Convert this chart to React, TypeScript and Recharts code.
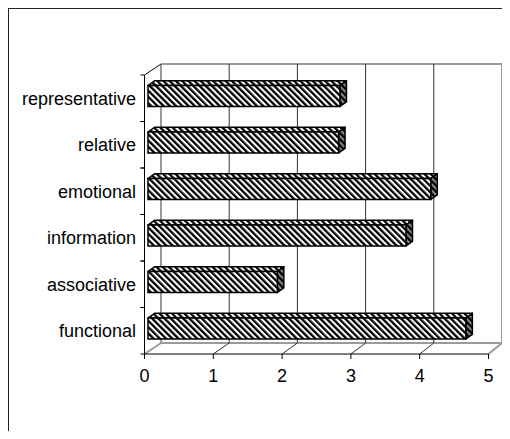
import React from "react";
import { BarChart, Bar, XAxis, YAxis, CartesianGrid } from "recharts";

// ---- data ----
const categories = ["representative", "relative", "emotional", "information", "associative", "functional"];
const values = [2.79, 2.77, 4.11, 3.75, 1.88, 4.62];
const xTicks = [0, 1, 2, 3, 4, 5];

const data = categories.map((name, i) => ({ name, value: values[i] }));

// ---- layout (chart-local coordinates) ----
const CHART_W = 501;
const CHART_H = 430;
const PLOT_LEFT = 135.5;
const PLOT_RIGHT = 479.5;
const PLOT_TOP = 66;
const PLOT_BOTTOM = 345;
const YAXIS_W = 100;
const XAXIS_H = 40;
const MARGIN = {
  top: PLOT_TOP,
  right: CHART_W - PLOT_RIGHT,
  bottom: CHART_H - PLOT_BOTTOM - XAXIS_H,
  left: PLOT_LEFT - YAXIS_W,
};
const BAND = (PLOT_BOTTOM - PLOT_TOP) / categories.length;

// 3D depth
const DX = 16.5;
const DY = -11;
const K = 0.9913; // back plane scale
const BAR_SHIFT_X = 3.5;
const BAR_SHIFT_Y = -2.5;
const BAR_DX = 6.5;
const BAR_DY = -4.7;

const FONT = "'Liberation Sans', Arial, sans-serif";
const FONT_SIZE = 18;
const WALL = "#9a9a9a";
const GRID = "#333";

const backX = (fx: number) => PLOT_LEFT + DX + (fx - PLOT_LEFT) * K;
const near = (a: number, b: number) => Math.abs(a - b) < 0.75;

const VGrid = (props: any) => {
  const { x1, y1, y2, index } = props;
  const bx = backX(x1);
  const isEdge = near(x1, PLOT_LEFT) || near(x1, PLOT_RIGHT);
  const col = isEdge ? WALL : GRID;
  const sw = isEdge ? 2 : 1;
  return (
    <g key={`vg-${index}`}>
      <line x1={bx} y1={y1 + DY} x2={bx} y2={y2 + DY} stroke={col} strokeWidth={sw} />
      <line x1={x1} y1={y2} x2={bx} y2={y2 + DY} stroke={col} strokeWidth={sw} />
      {near(x1, PLOT_LEFT) ? <line x1={x1} y1={y1} x2={bx} y2={y1 + DY} stroke="#000" strokeWidth={1} /> : null}
    </g>
  );
};

const HGrid = (props: any) => {
  const { x1, x2, y1, index } = props;
  if (!(near(y1, PLOT_TOP) || near(y1, PLOT_BOTTOM))) return <g key={`hg-${index}`} />;
  return (
    <g key={`hg-${index}`}>
      <line x1={backX(x1)} y1={y1 + DY} x2={backX(x2)} y2={y1 + DY} stroke={WALL} strokeWidth={2} />
    </g>
  );
};

const XTick = (props: any) => {
  const { x, y, payload } = props;
  return (
    <g>
      <line x1={x} y1={y} x2={x} y2={y + 5} stroke="#000" strokeWidth={1} />
      <text x={x} y={y + 22} dy="0.35em" textAnchor="middle" fontFamily={FONT} fontSize={FONT_SIZE} fill="#000">
        {payload.value}
      </text>
    </g>
  );
};

const YTick = (props: any) => {
  const { x, y, payload } = props;
  return (
    <g>
      <line x1={x - 4} y1={y - BAND / 2} x2={x} y2={y - BAND / 2} stroke="#000" strokeWidth={1} />
      <line x1={x - 4} y1={y + BAND / 2} x2={x} y2={y + BAND / 2} stroke="#000" strokeWidth={1} />
      <text x={x - 8.5} y={y} dy="0.35em" textAnchor="end" fontFamily={FONT} fontSize={FONT_SIZE} fill="#000">
        {payload.value}
      </text>
    </g>
  );
};

const Bar3D = (props: any) => {
  const { x, y, width, height, index } = props;
  if (width == null || width <= 0) return null;
  const fx = x + BAR_SHIFT_X;
  const fy = y + BAR_SHIFT_Y;
  const w = width;
  const h = height;
  const pid = `hatch-${index}`;
  const sid = `side-${index}`;
  const top = `${fx},${fy} ${fx + w},${fy} ${fx + w + BAR_DX},${fy + BAR_DY} ${fx + BAR_DX},${fy + BAR_DY}`;
  const side = `${fx + w},${fy} ${fx + w + BAR_DX},${fy + BAR_DY} ${fx + w + BAR_DX},${fy + h + BAR_DY} ${fx + w},${fy + h}`;
  return (
    <g>
      <defs>
        <pattern id={pid} patternUnits="userSpaceOnUse" width={4.4} height={4.4} patternTransform="rotate(-45)">
          <rect width={4.4} height={4.4} fill="#fff" />
          <rect width={2.3} height={4.4} fill="#000" />
        </pattern>
        <pattern id={sid} patternUnits="userSpaceOnUse" width={4.4} height={4.4} patternTransform="rotate(-45)">
          <rect width={4.4} height={4.4} fill="#888" />
          <rect width={2.3} height={4.4} fill="#000" />
        </pattern>
      </defs>
      <polygon points={top} fill={`url(#${pid})`} stroke="#000" strokeWidth={1.5} strokeLinejoin="round" />
      <polygon points={side} fill={`url(#${sid})`} stroke="#000" strokeWidth={1.5} strokeLinejoin="round" />
      <rect x={fx} y={fy} width={w} height={h} fill={`url(#${pid})`} stroke="#000" strokeWidth={1.5} />
    </g>
  );
};

export default function App() {
  return (
    <div
      style={{
        position: "relative",
        width: 502,
        height: 423,
        borderTop: "1px solid #222",
        boxSizing: "border-box",
      }}
    >
      <div style={{ position: "absolute", left: 0, top: -1, width: 1, height: 431, background: "#222" }} />
      <div style={{ position: "absolute", left: 1, top: 0 }}>
        <BarChart width={CHART_W} height={CHART_H} data={data} layout="vertical" margin={MARGIN}>
          <CartesianGrid vertical={(p: any) => <VGrid {...p} />} horizontal={(p: any) => <HGrid {...p} />} />
          <XAxis
            type="number"
            domain={[0, 5]}
            ticks={xTicks}
            height={XAXIS_H}
            axisLine={{ stroke: "#000", strokeWidth: 1 }}
            tickLine={false}
            tickSize={0}
            tickMargin={0}
            interval={0}
            tick={(p: any) => <XTick {...p} />}
          />
          <YAxis
            type="category"
            dataKey="name"
            width={YAXIS_W}
            axisLine={{ stroke: "#000", strokeWidth: 1 }}
            tickLine={false}
            tickSize={0}
            tickMargin={0}
            interval={0}
            tick={(p: any) => <YTick {...p} />}
          />
          <Bar dataKey="value" barSize={21} isAnimationActive={false} shape={(p: any) => <Bar3D {...p} />} />
        </BarChart>
      </div>
    </div>
  );
}
